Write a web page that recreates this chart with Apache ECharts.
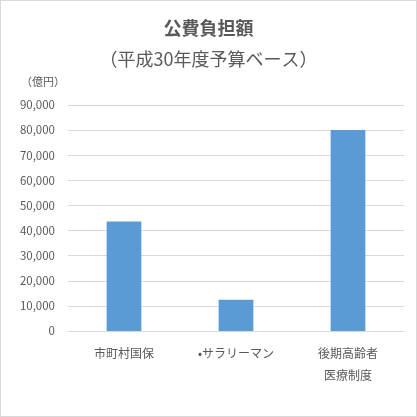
<!DOCTYPE html>
<html>
<head>
<meta charset="utf-8">
<script src="https://cdn.jsdelivr.net/npm/echarts@6/dist/echarts.min.js"></script>
<style>
  html, body { margin: 0; padding: 0; background: #fff; }
  #chart { width: 417px; height: 417px; box-sizing: border-box; border: 1px solid #d9d9d9; }
</style>
</head>
<body>
<div id="chart"></div>
<script>
// 公費負担額（平成30年度予算ベース）
var categories = ['市町村国保', '•サラリーマン', '後期高齢者\n医療制度'];
var publicBurden = [43600, 12400, 80000]; // 億円
var yMax = 90000;
var yStep = 10000;

var chart = echarts.init(document.getElementById('chart'));
var textColor = '#595959';
var font = '"Noto Sans CJK JP", "Noto Sans", sans-serif';

chart.setOption({
    animation: false,
    title: [
        {
            text: '公費負担額',
            left: 'center',
            top: 13,
            textStyle: { fontFamily: font, fontSize: 18, fontWeight: 'bold', color: textColor }
        },
        {
            text: '（平成30年度予算ベース）',
            left: 'center',
            top: 44,
            textStyle: { fontFamily: font, fontSize: 18, fontWeight: 'normal', color: textColor }
        },
        {
            text: '（億円）',
            left: 15,
            top: 70,
            textStyle: { fontFamily: font, fontSize: 11, fontWeight: 'normal', color: textColor }
        }
    ],
    grid: { left: 67, right: 12, top: 104, bottom: 85 },
    xAxis: {
        type: 'category',
        data: categories,
        axisLine: { lineStyle: { color: '#d9d9d9' } },
        axisTick: { show: false },
        axisLabel: { color: textColor, fontFamily: font, fontSize: 12, margin: 11, lineHeight: 22 }
    },
    yAxis: {
        type: 'value',
        min: 0,
        max: yMax,
        interval: yStep,
        axisLine: { show: false },
        axisTick: { show: false },
        splitLine: { lineStyle: { color: '#d9d9d9' } },
        axisLabel: {
            color: textColor,
            fontFamily: font,
            fontSize: 11.5,
            margin: 13,
            formatter: function (v) { return v.toLocaleString('en-US'); }
        }
    },
    series: [{
        type: 'bar',
        data: publicBurden,
        barWidth: '31%',
        itemStyle: { color: '#5b9bd5' }
    }]
});
</script>
</body>
</html>
